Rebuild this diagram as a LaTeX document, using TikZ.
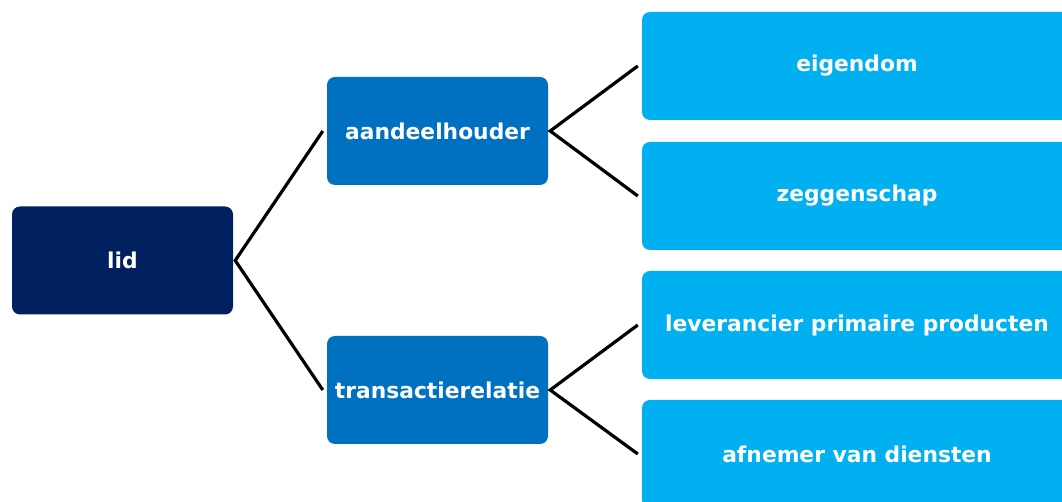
\documentclass[tikz,border=0pt]{standalone}
\usepackage{fontspec}
\setmainfont{DejaVu Sans}
\definecolor{navy}{HTML}{002060}
\definecolor{midblue}{HTML}{0070C0}
\definecolor{lightblue}{HTML}{00B0F0}
\tikzset{
  box/.style={rounded corners=8pt, minimum height=108pt, inner sep=0pt, text=white, font=\bfseries\fontsize{21.8}{26}\selectfont},
  lvla/.style={box, fill=navy, minimum width=221pt},
  lvlb/.style={box, fill=midblue, minimum width=221pt},
  lvlc/.style={box, fill=lightblue, minimum width=430pt},
  conn/.style={line width=3.2pt, black}
}
\begin{document}
\begin{tikzpicture}[x=1pt,y=1pt]
\useasboundingbox (0,0) rectangle (1062,502);
\clip (0,0) rectangle (1062,502);
\node[lvla] (lid) at (122.5,241.5) {lid};
\node[lvlb] (aand) at (437.5,371) {aandeelhouder};
\node[lvlb] (trans) at (437.5,112) {transactierelatie};
\node[lvlc] (eig) at (857,436) {eigendom};
\node[lvlc] (zeg) at (857,306) {zeggenschap};
\node[lvlc] (lev) at (857,177) {leverancier primaire producten};
\node[lvlc] (afn) at (857,48) {afnemer van diensten};
\coordinate (lidout) at ([xshift=2pt]lid.east);
\coordinate (aandin) at ([xshift=-4pt]aand.west);
\coordinate (transin) at ([xshift=-4pt]trans.west);
\coordinate (aandout) at ([xshift=2pt]aand.east);
\coordinate (transout) at ([xshift=2pt]trans.east);
\coordinate (eigin) at ([xshift=-4pt]eig.west);
\coordinate (zegin) at ([xshift=-4pt]zeg.west);
\coordinate (levin) at ([xshift=-4pt]lev.west);
\coordinate (afnin) at ([xshift=-4pt]afn.west);
\draw[conn] (aandin) -- (lidout) -- (transin);
\draw[conn] (eigin) -- (aandout) -- (zegin);
\draw[conn] (levin) -- (transout) -- (afnin);
\end{tikzpicture}
\end{document}
